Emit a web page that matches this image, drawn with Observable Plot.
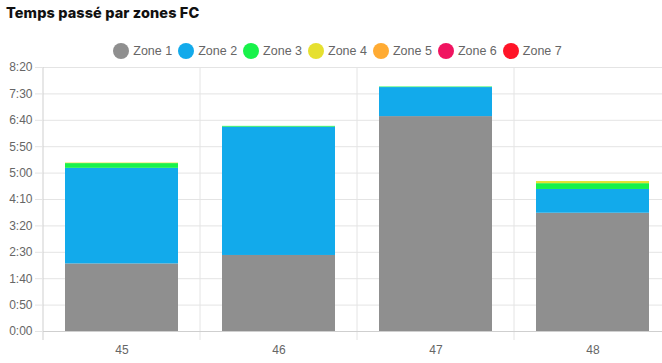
<!DOCTYPE html>
<html><head><meta charset="utf-8">
<script src="https://cdn.jsdelivr.net/npm/d3@7"></script>
<script src="https://cdn.jsdelivr.net/npm/@observablehq/plot@0.6"></script>
<style>
body{margin:0;background:#fff;width:662px;height:363px;overflow:hidden;font-family:"Liberation Sans",Arial,sans-serif;}
#title{font-family:Inter,sans-serif;font-weight:800;font-size:14.5px;line-height:15px;letter-spacing:0.1px;color:#111;padding:5px 0 0 6px;height:38px;box-sizing:border-box;white-space:nowrap;}
#legend{display:flex;justify-content:center;align-items:center;height:26px;padding-left:13px;box-sizing:border-box;}
.item{display:flex;align-items:center;margin:0 3px;}
.dot{width:16px;height:16px;border-radius:50%;margin-right:4px;}
.lab{font-size:12.5px;color:#666;}
#chart svg{overflow:visible;display:block;}
</style></head>
<body>
<div id="title">Temps passé par zones FC</div>
<div id="legend"></div>
<div id="chart"></div>
<script>
const weeks = ["45", "46", "47", "48"];
const zones = ["Zone 1", "Zone 2", "Zone 3", "Zone 4", "Zone 5", "Zone 6", "Zone 7"];
const colors = ["#8f8f8f", "#12aaeb", "#18f24a", "#e6e030", "#ffab33", "#f01460", "#ff1428"];
const zone1 = [128, 144, 407, 224];
const zone2 = [181, 243, 55, 45];
const zone3 = [9, 1.5, 1, 11];
const zone4 = [1, 0, 0, 4];
const zone5 = [0, 0, 0, 0];
const zone6 = [0, 0, 0, 0];
const zone7 = [0, 0, 0, 0];
const yTicks = [0, 50, 100, 150, 200, 250, 300, 350, 400, 450, 500];

const series = [zone1, zone2, zone3, zone4, zone5, zone6, zone7];
const data = [];
series.forEach((vals, z) => vals.forEach((v, i) => data.push({week: weeks[i], zone: zones[z], value: v})));

const fmt = v => Math.floor(v / 60) + ":" + String(v % 60).padStart(2, "0");

const legend = document.getElementById("legend");
zones.forEach((z, i) => {
  const it = document.createElement("div");
  it.className = "item";
  it.innerHTML = `<span class="dot" style="background:${colors[i]}"></span><span class="lab">${z}</span>`;
  legend.appendChild(it);
});

const bandEdges = (index, scales, values, dims) => {
  const g = d3.create("svg:g");
  weeks.forEach((w, i) => {
    const x = scales.x(w);
    g.append("line").attr("x1", x).attr("x2", x)
      .attr("y1", dims.marginTop).attr("y2", dims.height - dims.marginBottom + 9)
      .attr("stroke", i === 0 ? "#cfcfcf" : "#e4e4e4");
  });
  return g.node();
};

const chart = Plot.plot({
  width: 662, height: 299,
  marginTop: 3, marginBottom: 32, marginLeft: 43, marginRight: -9,
  x: {domain: weeks, padding: 0},
  y: {domain: [0, 500]},
  color: {domain: zones, range: colors},
  style: {fontFamily: '"Liberation Sans", Arial, sans-serif', fontSize: "12px", color: "#666", background: "transparent"},
  marks: [
    Plot.ruleY(yTicks.slice(1), {y: d => d, stroke: "#e4e4e4"}),
    bandEdges,
    Plot.axisY({ticks: yTicks, tickFormat: fmt, tickSize: 8, tickPadding: 3, stroke: "#e4e4e4", fill: "#666", label: null}),
    Plot.barY(data, {x: "week", y: "value", fill: "zone", order: zones, insetLeft: 22, insetRight: 22}),
    Plot.ruleY([0], {stroke: "#cfcfcf"}),
    Plot.axisX({tickSize: 0, tickPadding: 14, fill: "#666", label: null})
  ]
});
document.getElementById("chart").appendChild(chart);
</script>
</body></html>
